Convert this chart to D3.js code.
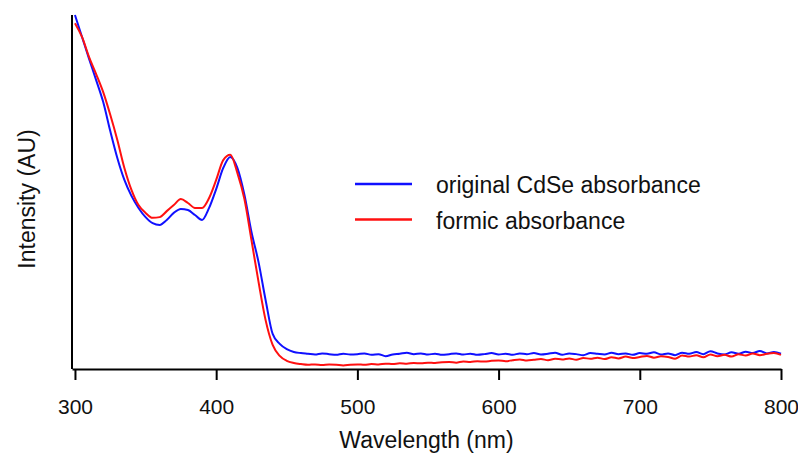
<!DOCTYPE html>
<html>
<head>
<meta charset="utf-8">
<script src="https://cdn.jsdelivr.net/npm/d3@7"></script>
<style>
  html, body { margin: 0; padding: 0; background: #fff; }
  svg { display: block; }
  text { font-family: "Liberation Sans", Arial, Helvetica, sans-serif; fill: #111; }
</style>
</head>
<body>
<svg id="chart" width="798" height="454"></svg>
<script>
// ---- data ----
const wavelengths = [300,305,310,315,320,325,330,335,340,345,350,355,360,365,370,375,380,385,390,395,
  400,405,410,415,420,425,430,435,440,445,450,455,460,465,470,475,480,485,490,495,
  500,505,510,515,520,525,530,535,540,545,550,555,560,565,570,575,580,585,590,595,
  600,605,610,615,620,625,630,635,640,645,650,655,660,665,670,675,680,685,690,695,
  700,705,710,715,720,725,730,735,740,745,750,755,760,765,770,775,780,785,790,795,800];

const originalCdSe = [1.000,0.938,0.876,0.816,0.754,0.672,0.596,0.534,0.489,0.455,0.429,0.412,0.407,0.421,0.441,0.452,0.449,0.435,0.421,0.455,
  0.508,0.568,0.599,0.568,0.492,0.387,0.302,0.195,0.099,0.071,0.056,0.048,0.045,0.043,0.041,0.044,0.042,0.040,0.043,0.041,
  0.042,0.044,0.040,0.042,0.036,0.041,0.043,0.046,0.042,0.044,0.041,0.043,0.040,0.042,0.044,0.041,0.043,0.040,0.042,0.045,
  0.041,0.043,0.040,0.044,0.042,0.045,0.041,0.043,0.046,0.040,0.044,0.042,0.039,0.045,0.043,0.041,0.046,0.042,0.044,0.040,
  0.045,0.043,0.047,0.041,0.044,0.039,0.046,0.043,0.048,0.042,0.050,0.044,0.041,0.047,0.043,0.049,0.045,0.051,0.044,0.048,0.043];

const formic = [0.977,0.938,0.881,0.833,0.782,0.718,0.647,0.568,0.506,0.463,0.441,0.427,0.429,0.446,0.463,0.480,0.469,0.455,0.455,0.483,
  0.534,0.590,0.605,0.554,0.480,0.364,0.246,0.138,0.068,0.037,0.023,0.017,0.014,0.012,0.013,0.011,0.013,0.012,0.010,0.012,
  0.013,0.012,0.014,0.013,0.015,0.014,0.016,0.015,0.017,0.016,0.018,0.017,0.019,0.020,0.018,0.021,0.020,0.022,0.021,0.023,
  0.024,0.022,0.025,0.027,0.024,0.026,0.028,0.025,0.029,0.027,0.030,0.026,0.031,0.029,0.032,0.028,0.033,0.030,0.035,0.031,
  0.034,0.037,0.032,0.036,0.034,0.029,0.038,0.035,0.039,0.033,0.041,0.036,0.040,0.035,0.042,0.038,0.044,0.039,0.043,0.045,0.040];

const xTicks = [300, 400, 500, 600, 700, 800];
const seriesNames = ["original CdSe absorbance", "formic absorbance"];
const seriesColors = ["#1010ff", "#ff1010"];
const xTitle = "Wavelength (nm)";
const yTitle = "Intensity (AU)";

// ---- chart ----
const svg = d3.select("#chart");
const x = d3.scaleLinear().domain([297.9, 800]).range([72, 781]);
const y = d3.scaleLinear().domain([0, 1.0]).range([369, 15]);

const seriesData = [originalCdSe, formic];
const line = d3.line().x(d => x(d[0])).y(d => y(d[1])).curve(d3.curveMonotoneX);

seriesData.forEach((vals, i) => {
  svg.append("path")
    .datum(wavelengths.map((w, j) => [w, vals[j]]))
    .attr("fill", "none")
    .attr("stroke", seriesColors[i])
    .attr("stroke-width", 2)
    .attr("stroke-linejoin", "round")
    .attr("d", line);
});

// x axis
const xAxis = svg.append("g")
  .attr("transform", "translate(0,369)")
  .call(d3.axisBottom(x).tickValues(xTicks).tickSize(11).tickSizeOuter(0).tickPadding(19).tickFormat(d3.format("d")));
xAxis.select(".domain").attr("stroke", "#000").attr("stroke-width", 2);
xAxis.selectAll(".tick line").attr("stroke", "#000").attr("stroke-width", 2);
xAxis.selectAll(".tick text")
  .style("font-family", "'Liberation Sans', Arial, sans-serif")
  .style("font-size", "21px").attr("fill", "#111");

// y axis (no ticks)
svg.append("line")
  .attr("x1", x(297.9)).attr("x2", x(297.9))
  .attr("y1", y(1.0)).attr("y2", y(0))
  .attr("stroke", "#000").attr("stroke-width", 2);

// titles
svg.append("text")
  .attr("x", (72 + 781) / 2).attr("y", 448)
  .attr("text-anchor", "middle")
  .style("font-size", "23px")
  .text(xTitle);

svg.append("text")
  .attr("transform", "translate(35," + ((15 + 369) / 2 + 7) + ") rotate(-90)")
  .attr("text-anchor", "middle")
  .style("font-size", "23px")
  .text(yTitle);

// legend
const legend = svg.append("g");
seriesNames.forEach((name, i) => {
  const ly = 184 + i * 35.5;
  legend.append("line")
    .attr("x1", 355).attr("x2", 412)
    .attr("y1", ly).attr("y2", ly)
    .attr("stroke", seriesColors[i]).attr("stroke-width", 2.5);
  legend.append("text")
    .attr("x", 436).attr("y", ly + 9)
    .style("font-size", "23px")
    .text(name);
});
</script>
</body>
</html>
